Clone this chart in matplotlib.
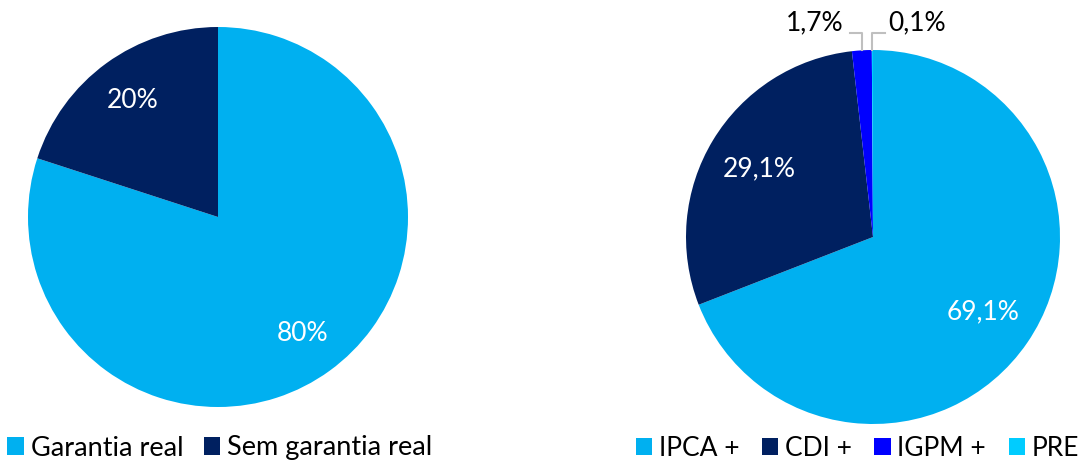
import numpy as np
import matplotlib.pyplot as plt

# Données
garantia_labels = ['Garantia real', 'Sem garantia real']
garantia_valores = [80, 20]
garantia_cores = ['#00B0F0', '#002060']

indexador_labels = ['IPCA +', 'CDI +', 'IGPM +', 'PRE']
indexador_valores = [69.1, 29.1, 1.7, 0.1]
indexador_cores = ['#00B0F0', '#002060', '#0000FF', '#00CCFF']

plt.rcParams['font.family'] = ['Lato', 'DejaVu Sans']
FS = 19

W, H = 1079, 463
fig = plt.figure(figsize=(W / 100, H / 100), dpi=100)
ax = fig.add_axes([0, 0, 1, 1])


def fmt_pct(v, dec):
    return f'{v:.{dec}f}%'.replace('.', ',')


# Pizza 1 - garantia
w1, _ = ax.pie(garantia_valores, colors=garantia_cores, startangle=90,
               counterclock=False, center=(218, H - 217), radius=190,
               wedgeprops=dict(linewidth=0))
for w, v in zip(w1, garantia_valores):
    ang = np.deg2rad((w.theta1 + w.theta2) / 2)
    ax.text(218 + 0.76 * 190 * np.cos(ang), H - 217 + 0.76 * 190 * np.sin(ang),
            fmt_pct(v, 0), ha='center', va='center', color='white', fontsize=FS)

# Pizza 2 - indexador
cx, cy, r = 873, H - 237, 187
w2, _ = ax.pie(indexador_valores, colors=indexador_cores, startangle=90,
               counterclock=False, center=(cx, cy), radius=r,
               wedgeprops=dict(linewidth=0))
for w, v in zip(w2[:2], indexador_valores[:2]):
    ang = np.deg2rad((w.theta1 + w.theta2) / 2)
    ax.text(cx + 0.71 * r * np.cos(ang), cy + 0.71 * r * np.sin(ang),
            fmt_pct(v, 1), ha='center', va='center', color='white', fontsize=FS)

# Petites parts avec lignes de rappel
ax.plot([850, 862, 862], [H - 33, H - 33, H - 50], color='#BFBFBF', lw=1.5)
ax.plot([885, 872, 872], [H - 33, H - 33, H - 50], color='#BFBFBF', lw=1.5)
ax.text(815, H - 23, fmt_pct(indexador_valores[2], 1), ha='center', va='center',
        color='black', fontsize=FS)
ax.text(917, H - 23, fmt_pct(indexador_valores[3], 1), ha='center', va='center',
        color='black', fontsize=FS)

ax.set_xlim(0, W)
ax.set_ylim(0, H)
ax.set_aspect('equal')
ax.axis('off')

leg_kw = dict(frameon=False, handlelength=0.62, handleheight=0.62,
              handletextpad=0.25, borderaxespad=0, borderpad=0)
fig.legend(w1, garantia_labels, loc='center left', bbox_to_anchor=(7 / W, 1 - 448 / H),
           ncol=2, columnspacing=0.75, fontsize=19.5, **leg_kw)
fig.legend(w2, indexador_labels, loc='center left', bbox_to_anchor=(636 / W, 1 - 448 / H),
           ncol=4, columnspacing=0.85, fontsize=FS, **leg_kw)

fig.savefig('out.png', dpi=100)
